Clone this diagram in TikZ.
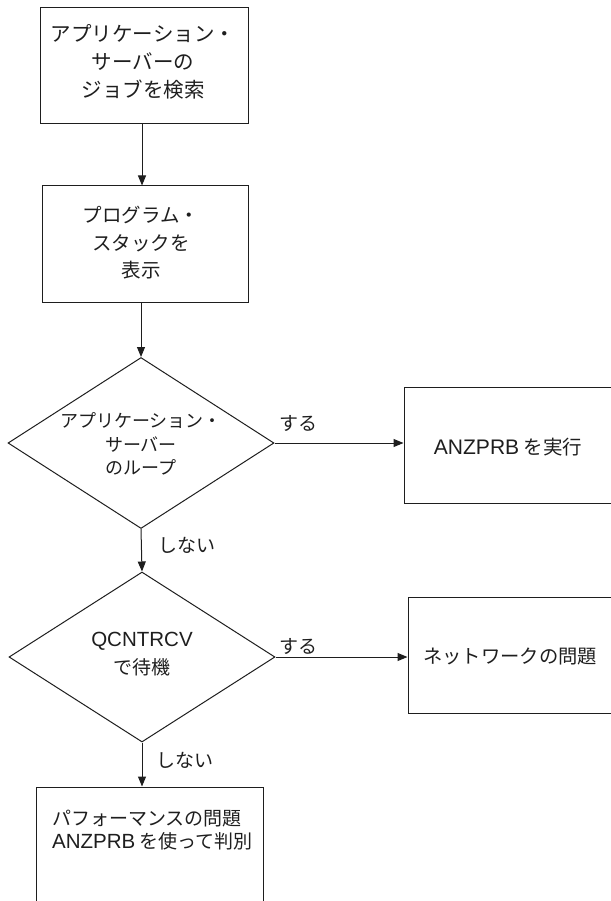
\documentclass[tikz,border=0pt]{standalone}
\usepackage{fontspec}
\setmainfont{Noto Sans CJK JP}
\newfontfamily\latf[Scale=1.08]{Liberation Sans}
\usetikzlibrary{shapes.geometric,arrows.meta}
\definecolor{ink}{HTML}{1E1E1E}
\tikzset{
  boxnode/.style={draw=ink, line width=1pt, rectangle, inner sep=0pt, minimum height=116pt},
  decnode/.style={draw=ink, line width=1pt, diamond, inner sep=0pt},
  txt/.style={text=ink, inner sep=0pt, align=center},
  arr/.style={draw=ink, line width=1pt, -{Triangle[length=10pt,width=8pt]}},
}
\newcommand{\fsz}[2]{\fontsize{#1}{#2}\selectfont}
\begin{document}
\begin{tikzpicture}[x=1pt,y=-1pt]
\useasboundingbox (0,0) rectangle (610,901);
% boxes
\node[boxnode, minimum width=208pt] (b1) at (144,66) {};
\node[boxnode, minimum width=206pt] (b2) at (145,244) {};
\node[decnode, minimum width=266pt, minimum height=171pt] (d1) at (141,443) {};
\node[boxnode, minimum width=208pt] (b3) at (508,445) {};
\node[decnode, minimum width=266pt, minimum height=170pt] (d2) at (142,657) {};
\node[boxnode, minimum width=204pt] (b4) at (510,655) {};
\node[boxnode, minimum width=227pt] (b5) at (149.5,845) {};
% texts
\node[txt, font=\fsz{20.5}{28}] (t1) at (143,62) {アプリケーション・\\サーバーの\\ジョブを検索};
\node[txt, font=\fsz{19.5}{27.5}] (t2) at (141,243) {プログラム・\\スタックを\\表示};
\node[txt, font=\fsz{18}{23.5}] (t3) at (141,444) {アプリケーション・\\サーバー\\のループ};
\node[txt, font=\fsz{19.5}{19.5}] (t4) at (508,447) {{\latf ANZPRB}\ を実行};
\node[txt, font=\fsz{19}{28}] (t5) at (142,654) {{\latf QCNTRCV}\\で待機};
\node[txt, font=\fsz{19.3}{22.5}, anchor=west] (t6) at (423,657) {ネットワークの問題};
\node[txt, font=\fsz{19}{22.5}, align=left, anchor=west] (t7) at (52,830) {パフォーマンスの問題\\{\latf ANZPRB} を使って判別};
% labels
\node[txt, font=\fsz{19}{19}] (y1) at (298,423) {する};
\node[txt, font=\fsz{19}{19}] (y2) at (298,646) {する};
\node[txt, font=\fsz{19}{19}] (n1) at (187,545) {しない};
\node[txt, font=\fsz{19}{19}] (n2) at (185,760) {しない};
% connectors
\draw[arr] (b1.south -| 142,0) -- (b2.north -| 142,0);
\draw[arr] (b2.south -| d1.north) -- (d1.north);
\draw[arr] (d1.east) -- (d1.east -| b3.west);
\draw[arr] (d1.south) -- (d2.north);
\draw[arr] (d2.east) -- (d2.east -| b4.west);
\draw[arr] (d2.south) -- (d2.south |- b5.north);
\end{tikzpicture}
\end{document}
